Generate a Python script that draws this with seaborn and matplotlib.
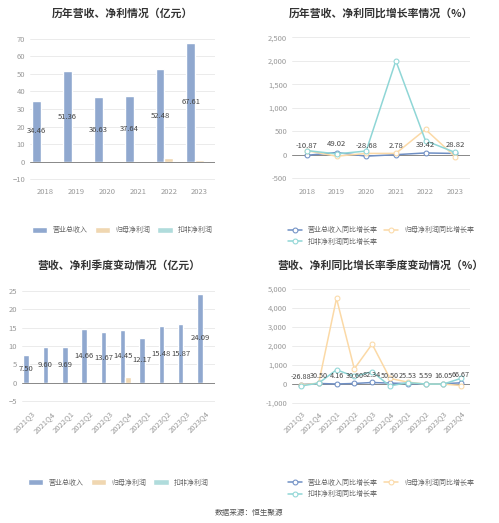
import numpy as np
import pandas as pd
import matplotlib
matplotlib.use("Agg")
import matplotlib.pyplot as plt
import seaborn as sns

years = ["2018", "2019", "2020", "2021", "2022", "2023"]
rev_y = [34.46, 51.36, 36.63, 37.64, 52.48, 67.61]
np_y = [0.10, 0.05, 0.20, 0.30, 2.00, 1.10]
dnp_y = [0.05, 0.02, 0.10, 0.20, 0.50, 0.60]
rev_g_y = [-10.87, 49.02, -28.68, 2.78, 39.42, 28.82]
np_g_y = [90, -30, 30, 30, 540, -40]
dnp_g_y = [90, 20, 80, 2000, 300, 50]

quarters = ["2021Q3", "2021Q4", "2022Q1", "2022Q2", "2022Q3", "2022Q4",
            "2023Q1", "2023Q2", "2023Q3", "2023Q4"]
rev_q = [7.50, 9.60, 9.69, 14.66, 13.67, 14.45, 12.17, 15.48, 15.87, 24.09]
np_q = [0.05, 0.20, 0.15, 0.20, 0.15, 1.60, 0.30, 0.20, 0.10, 0.20]
dnp_q = [0.05, 0.20, 0.15, 0.25, 0.20, 0.10, 0.30, 0.20, 0.15, 0.20]
rev_g_q = [-26.88, 30.50, 4.16, 30.60, 82.34, 50.50, 25.53, 5.59, 16.05, 66.67]
np_g_q = [-50, 50, 4500, 800, 2100, 300, 100, 0, 0, -80]
dnp_g_q = [-100, 50, 750, 400, 650, -100, 80, 0, 0, 300]

sns.set_style("white")
plt.rcParams['font.family'] = ['Noto Sans CJK SC', 'DejaVu Sans']

C_BLUE, C_ORG, C_CYAN = "#86a6d9", "#fbd9a6", "#a9e3e3"
bar_names = ["营业总收入", "归母净利润", "扣非净利润"]
line_names = ["营业总收入同比增长率", "归母净利润同比增长率", "扣非净利润同比增长率"]
grid_c = "#e8e8e8"
tick_c = "#999999"

W, H = 499, 523
fig = plt.figure(figsize=(W / 100, H / 100), dpi=100)


def box(x0, y0, x1, y1):
    return [x0 / W, 1 - y1 / H, (x1 - x0) / W, (y1 - y0) / H]


ax_tl = fig.add_axes(box(30, 35, 215, 183))
ax_tr = fig.add_axes(box(292, 35, 470, 183))
ax_bl = fig.add_axes(box(22, 287, 215, 405))
ax_br = fig.add_axes(box(292, 287, 470, 405))


def style(ax, title, pad):
    ax.set_title(title, fontsize=7.8, fontweight="bold", color="#333333", pad=pad)
    ax.grid(axis="y", color=grid_c, lw=0.6)
    ax.set_axisbelow(True)
    for s in ["top", "right", "left", "bottom"]:
        ax.spines[s].set_visible(False)
    ax.axhline(0, color="#888888", lw=0.7, zorder=1)
    ax.tick_params(axis="both", labelsize=5.5, colors=tick_c, length=0)
    ax.set_xlabel("")
    ax.set_ylabel("")


def rotate(ax):
    ax.tick_params(axis="x", rotation=45)
    for t in ax.get_xticklabels():
        t.set_ha("right")
        t.set_rotation_mode("anchor")


def bars(ax, cats, rev, np_, dnp, title, ylim, yticks, rot):
    n = len(cats)
    df = pd.DataFrame({"cat": cats * 3,
                       "val": rev + np_ + dnp,
                       "kind": [bar_names[0]] * n + [bar_names[1]] * n + [bar_names[2]] * n})
    sns.barplot(data=df, x="cat", y="val", hue="kind", ax=ax,
                palette=[C_BLUE, C_ORG, C_CYAN], width=0.85)
    ax.bar_label(ax.containers[0], labels=[f"{v:.2f}" for v in rev],
                 label_type="center", fontsize=5.5, color="#444444")
    ax.set_ylim(*ylim)
    ax.set_yticks(yticks)
    style(ax, title, 13)
    if rot:
        rotate(ax)
    ax.legend(loc="upper center", bbox_to_anchor=(0.5, -0.57 if rot else -0.25), ncol=3,
              fontsize=5, frameon=False, handlelength=2.2, handleheight=1,
              labelcolor="#666666", columnspacing=1)


def lines(ax, cats, a, b, c, title, ylim, yticks, rot):
    x = np.arange(len(cats))
    for vals, col, name in [(a, "#6f8fc4", line_names[0]), (b, C_ORG, line_names[1]),
                            (c, "#8fd6d6", line_names[2])]:
        sns.lineplot(x=x, y=vals, ax=ax, color=col, lw=1.1, marker="o",
                     markersize=3.5, markerfacecolor="white", markeredgecolor=col,
                     label=name)
    for xi, v in zip(x, a):
        ax.text(xi, max(v, 0) + (ylim[1] - ylim[0]) * 0.03, f"{v:.2f}",
                ha="center", va="bottom", fontsize=5.5 if not rot else 5.2, color="#444444")
    ax.set_xticks(x)
    ax.set_xticklabels(cats)
    ax.set_xlim(-0.5, len(cats) - 0.5)
    ax.set_ylim(*ylim)
    ax.set_yticks(yticks)
    ax.set_yticklabels([f"{t:,}" for t in yticks])
    style(ax, title, 13)
    if rot:
        rotate(ax)
    h, l = ax.get_legend_handles_labels()
    order = [0, 2, 1]
    ax.legend([h[i] for i in order], [l[i] for i in order],
              loc="upper center", bbox_to_anchor=(0.5, -0.57 if rot else -0.25), ncol=2,
              fontsize=5, frameon=False, labelcolor="#666666", columnspacing=1)


bars(ax_tl, years, rev_y, np_y, dnp_y, "历年营收、净利情况（亿元）",
     (-12, 72), list(range(-10, 71, 10)), False)
lines(ax_tr, years, rev_g_y, np_g_y, dnp_g_y, "历年营收、净利同比增长率情况（%）",
      (-600, 2550), list(range(-500, 2501, 500)), False)
bars(ax_bl, quarters, rev_q, np_q, dnp_q, "营收、净利季度变动情况（亿元）",
     (-6, 26), list(range(-5, 26, 5)), True)
lines(ax_br, quarters, rev_g_q, np_g_q, dnp_g_q, "营收、净利同比增长率季度变动情况（%）",
      (-1100, 5100), list(range(-1000, 5001, 1000)), True)

fig.text(0.5, 0.015, "数据来源：恒生聚源", ha="center", fontsize=5.5, color="#555555")
fig.savefig("out.png", dpi=100)
